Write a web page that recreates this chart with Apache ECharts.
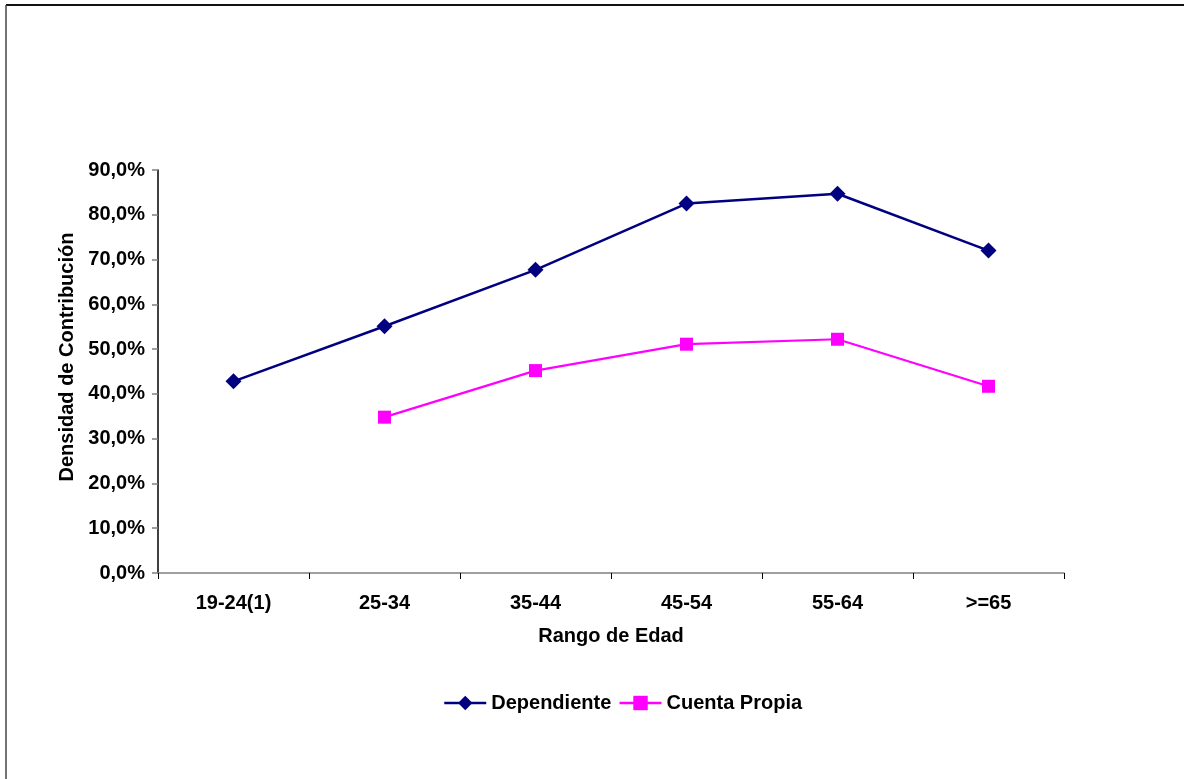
<!DOCTYPE html>
<html>
<head>
<meta charset="utf-8">
<script src="https://cdn.jsdelivr.net/npm/echarts@6/dist/echarts.min.js"></script>
<style>
  html, body { margin: 0; padding: 0; background: #fff; }
  #chart { width: 1184px; height: 779px; }
</style>
</head>
<body>
<div id="chart"></div>
<script>
// Age ranges on the horizontal axis
const categories = ['19-24(1)', '25-34', '35-44', '45-54', '55-64', '>=65'];
// Contribution density (%) per age range
const dependiente = [42.8, 55.1, 67.7, 82.5, 84.7, 72.0];
const cuentaPropia = [null, 34.8, 45.2, 51.1, 52.2, 41.7];
// Value axis range and step (%)
const yMin = 0;
const yMax = 90;
const yStep = 10;

const FONT = '"Liberation Sans", Arial, sans-serif';
const FS = 20;
const fmt = v => v.toFixed(1).replace('.', ',') + '%';

const chart = echarts.init(document.getElementById('chart'), null, { renderer: 'canvas' });

chart.setOption({
  backgroundColor: '#ffffff',
  animation: false,
  textStyle: { fontFamily: FONT },
  grid: { left: 158, right: 120, top: 170, bottom: 206, containLabel: false },
  legend: {
    top: 688,
    left: 438,
    itemWidth: 42,
    itemHeight: 18,
    itemGap: 7,
    lineStyle: { width: 2.5 },
    textStyle: { fontFamily: FONT, fontSize: FS, fontWeight: 'bold', color: '#000' },
    data: ['Dependiente', 'Cuenta Propia']
  },
  xAxis: {
    type: 'category',
    data: categories,
    boundaryGap: true,
    name: 'Rango de Edad',
    nameLocation: 'middle',
    nameGap: 53,
    nameTextStyle: { fontFamily: FONT, fontSize: FS, fontWeight: 'bold', color: '#000' },
    axisLine: { lineStyle: { color: '#808080', width: 1.5 } },
    axisTick: { show: true, length: 6, alignWithLabel: false, lineStyle: { color: '#000', width: 1 } },
    axisLabel: { margin: 20, fontFamily: FONT, fontSize: FS, fontWeight: 'bold', color: '#000', interval: 0 },
    splitLine: { show: false }
  },
  yAxis: {
    type: 'value',
    min: yMin,
    max: yMax,
    interval: yStep,
    axisLine: { show: true, lineStyle: { color: '#000', width: 1.5 } },
    axisTick: { show: true, length: 6, lineStyle: { color: '#808080', width: 1.5 } },
    axisLabel: { margin: 13, fontFamily: FONT, fontSize: FS, fontWeight: 'bold', color: '#000', formatter: fmt },
    splitLine: { show: false }
  },
  graphic: [
    // outer chart frame (top and left edges)
    { type: 'line', shape: { x1: 6, y1: 5, x2: 1184, y2: 5 }, style: { stroke: '#111', lineWidth: 2 }, silent: true },
    { type: 'line', shape: { x1: 6, y1: 5, x2: 6, y2: 779 }, style: { stroke: '#444', lineWidth: 1.5 }, silent: true },
    // value axis title
    {
      type: 'text',
      x: 67, y: 357,
      rotation: Math.PI / 2,
      style: {
        text: 'Densidad de Contribución',
        fill: '#000',
        font: 'bold ' + FS + 'px ' + FONT,
        textAlign: 'center',
        textVerticalAlign: 'middle'
      },
      silent: true
    }
  ],
  series: [
    {
      name: 'Dependiente',
      type: 'line',
      data: dependiente,
      symbol: 'diamond',
      symbolSize: 16,
      color: '#000080',
      lineStyle: { color: '#000080', width: 2.5 },
      itemStyle: { color: '#000080' }
    },
    {
      name: 'Cuenta Propia',
      type: 'line',
      data: cuentaPropia,
      connectNulls: false,
      symbol: 'rect',
      symbolSize: 13,
      color: '#ff00ff',
      lineStyle: { color: '#ff00ff', width: 2.2 },
      itemStyle: { color: '#ff00ff' }
    }
  ]
});
</script>
</body>
</html>
